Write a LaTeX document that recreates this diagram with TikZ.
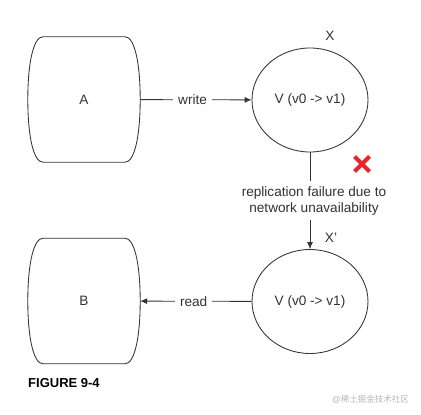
\documentclass[tikz,border=0pt]{standalone}
\usepackage{fontspec}
\setmainfont{Liberation Sans}
\newfontfamily\cjkfont{Noto Sans CJK SC}
\usetikzlibrary{arrows.meta,shapes.geometric,calc}
\definecolor{ink}{HTML}{333333}
\definecolor{crossred}{HTML}{E8262A}
\definecolor{wmark}{HTML}{B8B8B8}
\tikzset{
  edge/.style={draw=ink, line width=0.85pt},
  arrowedge/.style={edge, -{Latex[length=7pt,width=6pt]}},
  store/.style={minimum width=112pt, minimum height=125pt, inner sep=0pt, text=ink},
  replica/.style={ellipse, draw=ink, line width=0.85pt, minimum width=116pt, minimum height=104pt, inner sep=0pt, text=ink},
  lbl/.style={text=ink, inner sep=0pt},
  edgelbl/.style={fill=white, text=ink, inner xsep=5pt, inner ysep=3pt},
}
\newcommand\drumoutline[1]{%
  \draw[edge] ($(#1.north west)+(15,0)$) -- ($(#1.north east)+(-15,0)$)
    .. controls ($(#1.north east)+(-6,0)$) and ($(#1.east)+(0,-38)$) .. (#1.east)
    .. controls ($(#1.east)+(0,38)$) and ($(#1.south east)+(-6,0)$) .. ($(#1.south east)+(-15,0)$)
    -- ($(#1.south west)+(15,0)$)
    .. controls ($(#1.south west)+(6,0)$) and ($(#1.west)+(0,38)$) .. (#1.west)
    .. controls ($(#1.west)+(0,-38)$) and ($(#1.north west)+(6,0)$) .. cycle;}
\begin{document}
\begin{tikzpicture}[x=1pt,y=-1pt,font=\fontsize{13.6}{16}\selectfont]
\useasboundingbox (0,0) rectangle (421,415);
\fill[white] (0,0) rectangle (421,415);

\node[store] (A) at (84,99.5) {A};
\drumoutline{A}
\node[store] (B) at (84,301) {B};
\drumoutline{B}

\node[replica] (X) at (310,100) {V (v0 -> v1)};
\node[replica] (X2) at (310,301.5) {V (v0 -> v1)};

\node[lbl] (xl) at (330,36) {X};
\node[lbl] (x2l) at (331,238) {X'};

\draw[arrowedge] (A) -- node[edgelbl, pos=0.47] {write} (X);
\draw[arrowedge] (X2) -- node[edgelbl, pos=0.52] {read} (B);
\draw[arrowedge] (X) -- node[edgelbl, align=center, xshift=4pt, inner ysep=5pt] {replication failure due to\\network unavailability} (X2);

% red failure cross
\node (fail) at (362,164) {};
\draw[crossred, line width=4.2pt] ($(fail)+(-7.5,-7.5)$) -- ($(fail)+(7.5,7.5)$);
\draw[crossred, line width=4.2pt] ($(fail)+(-7.5,7.5)$) -- ($(fail)+(7.5,-7.5)$);

\node[anchor=west, inner sep=0pt, font=\fontsize{13}{15}\selectfont\bfseries, text=black] (cap) at (28,383) {FIGURE 9-4};
\node[anchor=east, inner sep=0pt, font=\fontsize{8.5}{10}\selectfont, text=wmark] (wm) at (409,399) {@{\cjkfont 稀土掘金技术社区}};
\end{tikzpicture}
\end{document}
